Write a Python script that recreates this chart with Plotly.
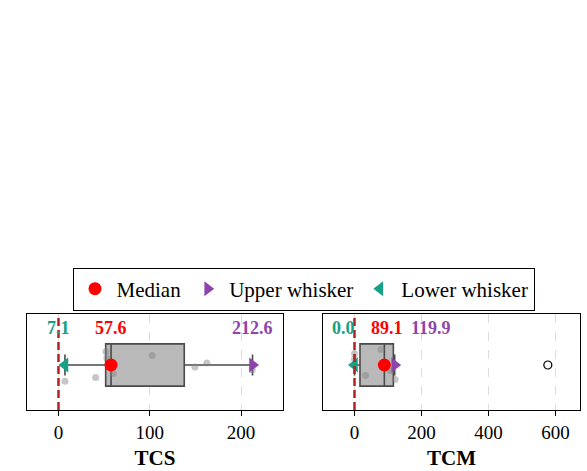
import plotly.graph_objects as go

# ---------------- data ----------------
panels = ["TCS", "TCM"]
q1_vals = [51.7, 16.4]
median_vals = [57.6, 89.1]
q3_vals = [137.8, 116.0]
lower_whisker = [7.1, 0.0]
upper_whisker = [212.6, 119.9]

tcs_points = [7.1, 40.7, 52.0, 53.0, 60.0, 102.7, 149.5, 162.6, 212.3]
tcs_jitter = [-0.17, -0.13, 0.14, 0.07, -0.09, 0.10, -0.02, 0.02, -0.05]
tcm_points = [0.0, 0.0, 33.0, 79.0, 108.0, 121.0]
tcm_jitter = [0.12, 0.06, -0.11, 0.16, -0.06, -0.15]
tcm_outliers = [577.0]

points = [tcs_points, tcm_points]
jitters = [tcs_jitter, tcm_jitter]
outliers = [[], tcm_outliers]

# label x positions (adjusted to avoid overlaps, as in the original)
label_pos_lower = [-0.5, -33.0]
label_pos_median = [57.6, 97.0]
label_pos_upper = [212.6, 228.0]

# ---------------- style ----------------
RED = "#ff0000"
PURPLE = "#8e44ad"
GREEN = "#16a085"
FONT = "'Liberation Serif', 'Times New Roman', 'DejaVu Serif', serif"

fig = go.Figure()

for i, name in enumerate(panels):
    xa = "x" if i == 0 else "x2"
    ya = "y" if i == 0 else "y2"
    fig.add_trace(go.Box(
        y=[0], q1=[q1_vals[i]], median=[median_vals[i]], q3=[q3_vals[i]],
        lowerfence=[lower_whisker[i]], upperfence=[upper_whisker[i]],
        orientation="h", width=0.44, whiskerwidth=0.5,
        fillcolor="#b9b9b9", line=dict(color="#4a4a4a", width=1.6),
        boxpoints=False, showlegend=False, hoverinfo="skip",
        xaxis=xa, yaxis=ya,
    ))
    fig.add_trace(go.Scatter(
        x=points[i], y=jitters[i], mode="markers",
        marker=dict(color="rgba(128,128,128,0.45)", size=7),
        showlegend=False, xaxis=xa, yaxis=ya,
    ))
    if outliers[i]:
        fig.add_trace(go.Scatter(
            x=outliers[i], y=[0] * len(outliers[i]), mode="markers",
            marker=dict(color="white", size=8, line=dict(color="black", width=1.2)),
            showlegend=False, xaxis=xa, yaxis=ya,
        ))
    fig.add_trace(go.Scatter(
        x=[lower_whisker[i]], y=[0], mode="markers", name="Lower whisker",
        marker=dict(color=GREEN, size=13, symbol="triangle-left"),
        showlegend=(i == 0), legendrank=3, xaxis=xa, yaxis=ya,
    ))
    fig.add_trace(go.Scatter(
        x=[upper_whisker[i]], y=[0], mode="markers", name="Upper whisker",
        marker=dict(color=PURPLE, size=13, symbol="triangle-right"),
        showlegend=(i == 0), legendrank=2, xaxis=xa, yaxis=ya,
    ))
    fig.add_trace(go.Scatter(
        x=[median_vals[i]], y=[0], mode="markers", name="Median",
        marker=dict(color=RED, size=13, symbol="circle"),
        showlegend=(i == 0), legendrank=1, xaxis=xa, yaxis=ya,
    ))
    for xv, val, col in [(label_pos_lower[i], lower_whisker[i], GREEN),
                         (label_pos_median[i], median_vals[i], RED),
                         (label_pos_upper[i], upper_whisker[i], PURPLE)]:
        fig.add_annotation(x=xv, y=0.385, xref=xa, yref=ya, text=f"<b>{val:.1f}</b>",
                           showarrow=False, font=dict(color=col, size=18, family=FONT))
    fig.add_shape(type="line", x0=0, x1=0, y0=0, y1=1, xref=xa, yref=f"{ya} domain",
                  line=dict(color="#b22222", width=2.5, dash="8px,4px"))

axis_common = dict(
    showgrid=True, griddash="dash", gridcolor="#dcdcdc", gridwidth=1,
    ticks="outside", ticklen=5, tickcolor="black", tickwidth=1,
    showline=True, linecolor="black", linewidth=1.4, mirror=True, zeroline=False,
    tickfont=dict(size=19, family=FONT, color="black"),
    title_font=dict(size=21, family=FONT, color="black"), title_standoff=8,
)
yaxis_common = dict(
    range=[-0.469, 0.531], showticklabels=False, showgrid=False, zeroline=False,
    showline=True, linecolor="black", linewidth=1.4, mirror=True, ticks="",
    domain=[1 - 410 / 471, 1 - 314 / 471],
)

fig.update_layout(
    width=587, height=471, margin=dict(l=0, r=0, t=0, b=0),
    paper_bgcolor="white", plot_bgcolor="white",
    font=dict(family=FONT, color="black"),
    xaxis=dict(domain=[27 / 587, 283 / 587], range=[-34.5, 246], tickvals=[0, 100, 200],
               title_text="<b>TCS</b>", anchor="y", **axis_common),
    xaxis2=dict(domain=[323 / 587, 580 / 587], range=[-94, 673], tickvals=[0, 200, 400, 600],
                title_text="<b>TCM</b>", anchor="y2", **axis_common),
    yaxis=dict(anchor="x", **yaxis_common),
    yaxis2=dict(anchor="x2", **yaxis_common),
    legend=dict(orientation="h", x=303.5 / 587, xanchor="center", y=1 - 289 / 471, yanchor="middle",
                bordercolor="black", borderwidth=1, font=dict(size=21, family=FONT),
                bgcolor="white", itemsizing="trace", itemwidth=33),
    showlegend=True,
)

fig.write_html("out.html")
